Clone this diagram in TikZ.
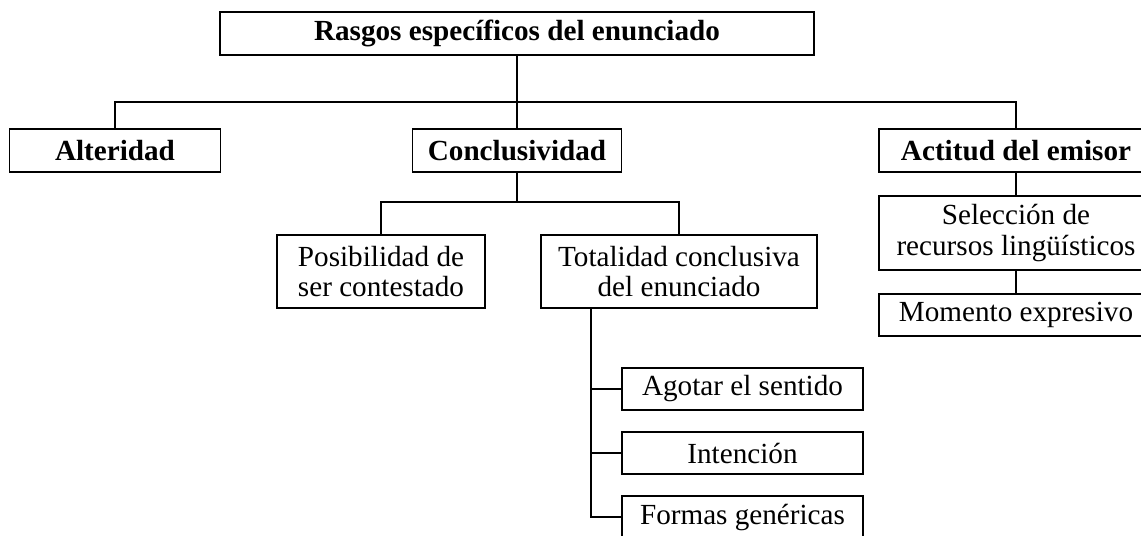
\documentclass[tikz,border=0pt]{standalone}
\usepackage{fontspec}
\setmainfont{Liberation Serif}

\begin{document}
\begin{tikzpicture}[x=0.02cm, y=-0.02cm, line width=0.7pt,
  every node/.style = {shape=rectangle, draw, inner sep=0pt,
    align=center, font=\fontsize{16.6}{17.5}\selectfont},
  head/.style = {font=\fontsize{16.6}{17.5}\selectfont\bfseries,
    minimum height=0.86cm},
  leaf/.style = {minimum width=4.82cm, minimum height=0.84cm}]
  \useasboundingbox (0,0) rectangle (1141,535);
  \clip (0,0) rectangle (1141,535);
  \node[head, minimum width=11.88cm] (root) at (517,33.5) {Rasgos específicos del enunciado};
  \node[head, minimum width=4.22cm] (alter) at (115,150.5) {Alteridad};
  \node[head, minimum width=4.18cm] (concl) at (517,150.5) {Conclusividad};
  \node[head, minimum width=5.48cm] (actit) at (1016,150.5) {Actitud del emisor};
  \node[minimum width=4.16cm, minimum height=1.46cm] (posib) at (381,271.5) {Posibilidad de\\ser contestado};
  \node[minimum width=5.52cm, minimum height=1.46cm] (total) at (679,271.5) {Totalidad conclusiva\\del enunciado};
  \node[minimum width=5.48cm, minimum height=1.48cm] (selec) at (1016,233) {Selección de\\recursos lingüísticos};
  \node[minimum width=5.48cm, minimum height=0.84cm] (momen) at (1016,315) {Momento expresivo};
  \node[leaf] (agota) at (742.5,389) {Agotar el sentido};
  \node[leaf] (inten) at (742.5,453) {Intención};
  \node[leaf] (forma) at (742.5,517) {Formas genéricas};
  \coordinate (rbus) at (517,102);
  \coordinate (cbus) at (517,202);
  \coordinate (tend) at (591,518);
  \draw (root.south) -- (rbus);
  \draw (alter.north) |- (rbus) -| (actit.north);
  \draw (rbus) -- (concl.north);
  \draw (concl.south) -- (cbus);
  \draw (posib.north) |- (cbus) -| (total.north);
  \draw (actit.south) -- (selec.north);
  \draw (selec.south) -- (momen.north);
  \draw (total.south -| tend) -- (tend);
  \foreach \n in {agota, inten, forma}
    \draw (\n.west) -- (\n.west -| tend);
\end{tikzpicture}
\end{document}
